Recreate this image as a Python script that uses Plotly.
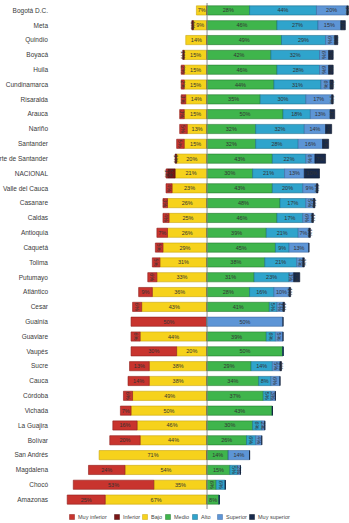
import plotly.graph_objects as go

categories = ["Bogotá D.C.", "Meta", "Quindío", "Boyacá", "Huila", "Cundinamarca", "Risaralda",
              "Arauca", "Nariño", "Santander", "Norte de Santander", "NACIONAL", "Valle del Cauca",
              "Casanare", "Caldas", "Antioquia", "Caquetá", "Tolima", "Putumayo", "Atlántico",
              "Cesar", "Guainía", "Guaviare", "Vaupés", "Sucre", "Cauca", "Córdoba", "Vichada",
              "La Guajira", "Bolívar", "San Andrés", "Magdalena", "Chocó", "Amazonas"]

muy_inferior = [0, 0, 0, 0, 2, 2, 3, 3, 5, 5, 0, 1, 4, 3, 4, 7, 5, 5, 6, 9, 6, 50, 6, 30, 13, 14, 6, 7, 16, 20, 0, 24, 53, 25]
inferior     = [0, 1, 0, 1, 0, 0, 0, 0, 0, 0, 1, 5, 0, 0, 0, 0, 0, 0, 0, 0, 0, 0, 0, 0, 0, 0, 0, 0, 0, 0, 0, 0, 0, 0]
bajo         = [7, 9, 14, 15, 15, 15, 14, 15, 13, 15, 20, 21, 23, 26, 25, 26, 29, 31, 33, 36, 43, 0, 44, 20, 38, 38, 49, 50, 46, 44, 71, 54, 35, 67]
medio        = [28, 46, 49, 42, 46, 44, 35, 50, 32, 32, 43, 30, 43, 48, 46, 39, 45, 38, 31, 28, 41, 0, 39, 50, 29, 34, 37, 43, 30, 26, 14, 15, 6, 8]
alto         = [44, 27, 29, 32, 28, 31, 30, 18, 32, 28, 22, 21, 20, 17, 17, 21, 9, 21, 23, 16, 5, 0, 6, 0, 14, 8, 5, 0, 6, 6, 0, 5, 6, 0]
superior     = [20, 15, 6, 6, 6, 6, 17, 13, 14, 16, 6, 13, 9, 5, 6, 7, 13, 4, 3, 10, 4, 50, 5, 0, 5, 6, 3, 0, 2, 4, 14, 2, 0, 0]
muy_superior = [1, 3, 2, 3, 3, 2, 1, 3, 4, 4, 7, 10, 1, 1, 1, 1, 0, 1, 4, 1, 1, 0, 0, 0, 1, 0, 0, 0, 0, 0, 0, 0, 0, 0]

series_names = ["Muy inferior", "Inferior", "Bajo", "Medio", "Alto", "Superior", "Muy superior"]
colors = {"Muy inferior": "#c8342e", "Inferior": "#7a1616", "Bajo": "#f6d21c", "Medio": "#3fb54c",
          "Alto": "#2fa4cc", "Superior": "#5d95d6", "Muy superior": "#182a4c"}
edges = {"Muy inferior": "#8e1f1b", "Inferior": "#4a0c0c", "Bajo": "#c9a60e", "Medio": "#237a2e",
         "Alto": "#1b6f8f", "Superior": "#3d6aa3", "Muy superior": "#0b1426"}

values = {"Muy inferior": muy_inferior, "Inferior": inferior, "Bajo": bajo, "Medio": medio,
          "Alto": alto, "Superior": superior, "Muy superior": muy_superior}

fig = go.Figure()
# negative side: stack from center outward
for name, sign in [("Bajo", -1), ("Inferior", -1), ("Muy inferior", -1),
                   ("Medio", 1), ("Alto", 1), ("Superior", 1), ("Muy superior", 1)]:
    v = values[name]
    fig.add_trace(go.Bar(
        y=categories, x=[sign * a for a in v], orientation="h", name=name,
        marker=dict(color=colors[name], line=dict(color=edges[name], width=0.6)),
        text=[f"{a}%" if a > 0 else "" for a in v],
        textposition="inside", insidetextanchor="middle", constraintext="none",
        textfont=dict(size=5.5, color="#333333", family="Liberation Sans"),
        showlegend=False, hoverinfo="skip"))

fig.update_layout(
    barmode="relative", bargap=0.38,
    width=349, height=523,
    margin=dict(l=52, r=0, t=3, b=16),
    paper_bgcolor="white", plot_bgcolor="white",
    font=dict(family="Liberation Sans", color="#404040"),
    xaxis=dict(range=[-102, 93.4], visible=False, showgrid=False, zeroline=False),
    yaxis=dict(categoryorder="array", categoryarray=categories, autorange="reversed",
               showgrid=False, zeroline=False, showline=False, ticks="",
               tickfont=dict(size=6.5, color="#3a3a3a", family="Liberation Sans"),
               automargin=False, ticklabelstandoff=3),
)

fig.add_shape(type="line", xref="x", yref="paper", x0=0, x1=0, y0=-0.004, y1=1.0,
              line=dict(color="#8c8c8c", width=1), layer="above")

# legend drawn as small swatches + labels
leg_px = [70, 115, 143, 166, 193, 218, 250]
plot_w, plot_h, left, top = 297, 504, 52, 3
leg_y = (507 - 517) / plot_h
for name, px in zip(series_names, leg_px):
    xp = (px + 2 - left) / plot_w
    fig.add_shape(type="rect", xref="paper", yref="paper", xsizemode="pixel", ysizemode="pixel",
                  xanchor=xp, yanchor=leg_y, x0=-2.5, x1=2.5, y0=-2.5, y1=2.5,
                  fillcolor=colors[name], line=dict(color=edges[name], width=0.5))
    fig.add_annotation(x=(px + 6 - left) / plot_w, y=leg_y, xref="paper", yref="paper",
                       text=name, showarrow=False, xanchor="left", yanchor="middle",
                       font=dict(size=5.5, color="#444444", family="Liberation Sans"))

fig.write_html("out.html", config={"displayModeBar": False, "staticPlot": True},
               post_script="document.body.style.margin='0';document.body.style.overflow='hidden';")
